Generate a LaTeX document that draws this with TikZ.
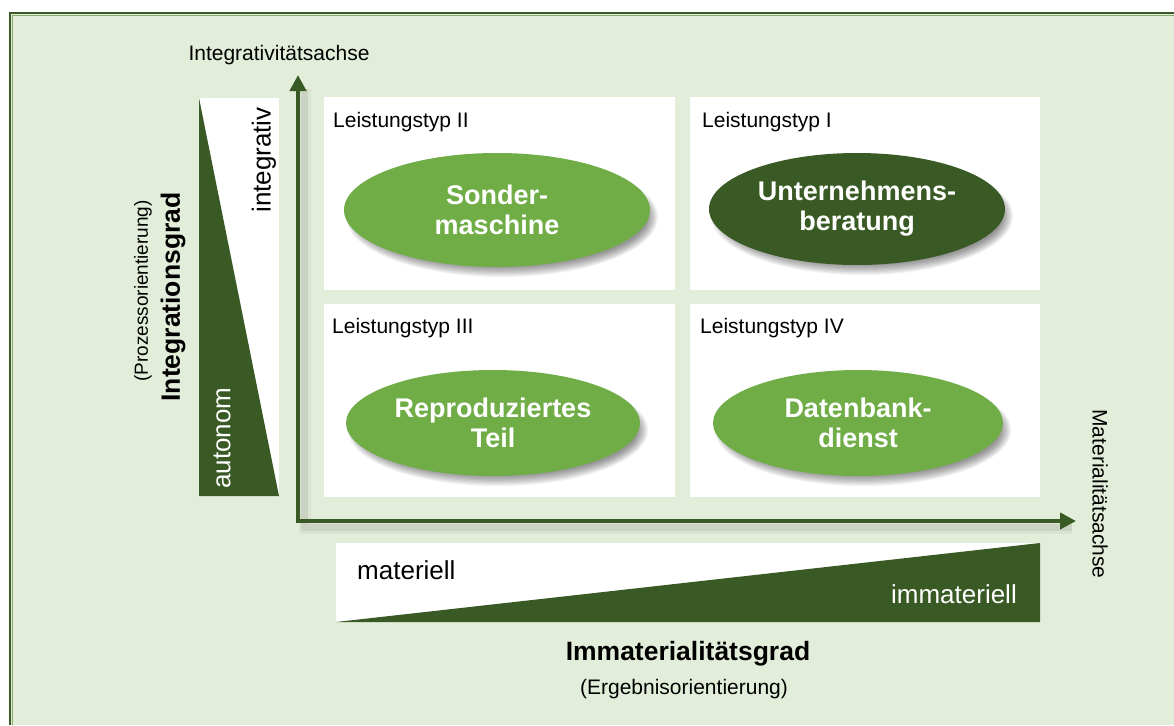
\documentclass[tikz,border=0pt]{standalone}
\usepackage{fontspec}
\setmainfont{Liberation Sans}
\usetikzlibrary{arrows.meta,shapes.geometric}

\definecolor{bgGreen}{HTML}{E2EED9}
\definecolor{darkGreen}{HTML}{3A5A25}
\definecolor{lightGreen}{HTML}{70AD47}
\definecolor{frameLight}{HTML}{8AAA70}

\tikzset{
  quad/.style={fill=white, draw=none, inner sep=0pt, anchor=north west},
  typelabel/.style={font=\fontsize{21pt}{25pt}\selectfont, anchor=base west, inner sep=0pt},
  plain/.style={font=\fontsize{21pt}{25pt}\selectfont, inner sep=0pt},
  bigtext/.style={font=\fontsize{26pt}{30pt}\selectfont, inner sep=0pt},
  boldtitle/.style={font=\fontsize{26.5pt}{30pt}\selectfont\bfseries, inner sep=0pt},
  blob/.style={ellipse, inner sep=0pt, text=white, align=center,
    font=\fontsize{27pt}{30pt}\selectfont\bfseries},
  axis/.style={darkGreen, line width=4pt, line join=miter,
    {Triangle[width=16pt,length=16pt]}-{Triangle[width=16pt,length=16pt]}},
  axisshadow/.style={line join=miter, color=black!45, line cap=butt},
  softshadow/.style={black, opacity=0.055},
}

% soft drop shadow under an ellipse: centre, x radius, y radius
\newcommand\ellshadow[3]{%
  \foreach \k in {0,...,8}{%
    \fill[softshadow] ([shift={(5,7)}]#1) ellipse ({#2+3-\k*1.3} and {#3+3-\k*1.3});
  }%
}

\begin{document}
\begin{tikzpicture}[x=1pt, y=-1pt]
  \useasboundingbox (0,0) rectangle (1174,725);

  % page background and frame
  \fill[white] (0,0) rectangle (1174,725);
  \fill[bgGreen] (10,13) rectangle (1174,725);
  \draw[frameLight, line width=1pt] (12.5,725) -- (12.5,15.5) -- (1174,15.5);
  \draw[darkGreen, line width=2.5pt] (10,725) -- (10,13) -- (1174,13);

  % axis end points
  \coordinate (origin) at (298,521);
  \coordinate (ytip)   at (298,75);
  \coordinate (xtip)   at (1076,521);

  % soft shadow of the axes
  \draw[axisshadow, line width=12pt, opacity=0.10]
    ([shift={(7,14)}]ytip) -- ([shift={(7,7)}]origin) -- ([shift={(-4,7)}]xtip);
  \draw[axisshadow, line width=7pt, opacity=0.18]
    ([shift={(6,14)}]ytip) -- ([shift={(6,6)}]origin) -- ([shift={(-4,6)}]xtip);

  % quadrants
  \node[quad, minimum width=351pt, minimum height=193pt] (q2) at (324,97)  {};
  \node[quad, minimum width=350pt, minimum height=193pt] (q1) at (690,97)  {};
  \node[quad, minimum width=351pt, minimum height=193pt] (q3) at (324,304) {};
  \node[quad, minimum width=350pt, minimum height=193pt] (q4) at (690,304) {};

  \node[typelabel] (l2) at (333,127) {Leistungstyp II};
  \node[typelabel] (l1) at (702,127) {Leistungstyp I};
  \node[typelabel] (l3) at (332,333) {Leistungstyp III};
  \node[typelabel] (l4) at (700,333) {Leistungstyp IV};

  % service types
  \coordinate (csm) at (497,210);
  \coordinate (cub) at (857,209);
  \coordinate (crt) at (493,423);
  \coordinate (cdb) at (858,423);
  \ellshadow{csm}{153}{57}
  \ellshadow{cub}{148}{56}
  \ellshadow{crt}{147}{53}
  \ellshadow{cdb}{145}{53}
  \node[blob, fill=lightGreen, minimum width=306pt, minimum height=114pt] (sm) at (csm) {Sonder-\\maschine};
  \node[blob, fill=darkGreen,  minimum width=296pt, minimum height=112pt] (ub) at (cub) {Unternehmens-\\beratung};
  \node[blob, fill=lightGreen, minimum width=294pt, minimum height=106pt] (rt) at (crt) {Reproduziertes\\Teil};
  \node[blob, fill=lightGreen, minimum width=290pt, minimum height=106pt] (db) at (cdb) {Datenbank-\\dienst};

  % axes
  \draw[axis] (ytip) -- (origin) -- (xtip);
  \node[plain, anchor=base] (ylab) at (279,60) {Integrativitätsachse};
  \node[plain, rotate=-90] (xlab) at (1100,494) {Materialitätsachse};

  % degree of integration (left wedge)
  \fill[white] (199,98) rectangle (279,496);
  \fill[darkGreen] (199,98) -- (279,496) -- (199,496) -- cycle;
  \node[bigtext, rotate=90] (integrativ) at (264,160) {integrativ};
  \node[bigtext, rotate=90, text=white] (autonom) at (222,438) {autonom};
  \node[boldtitle, rotate=90] (igrad) at (173,297) {Integrationsgrad};
  \node[font=\fontsize{19pt}{23pt}\selectfont, inner sep=0pt, rotate=90] (prozess) at (143,291) {(Prozessorientierung)};

  % degree of immateriality (bottom wedge)
  \fill[white] (336,543) rectangle (1040,622);
  \fill[darkGreen] (336,622) -- (1040,543) -- (1040,622) -- cycle;
  \node[bigtext, anchor=base west] (mat) at (357,579) {materiell};
  \node[bigtext, anchor=base east, text=white] (immat) at (1017,603) {immateriell};
  \node[boldtitle, anchor=base] (imgrad) at (688,660) {Immaterialitätsgrad};
  \node[plain, anchor=base] (ergeb) at (684,694) {(Ergebnisorientierung)};
\end{tikzpicture}
\end{document}
